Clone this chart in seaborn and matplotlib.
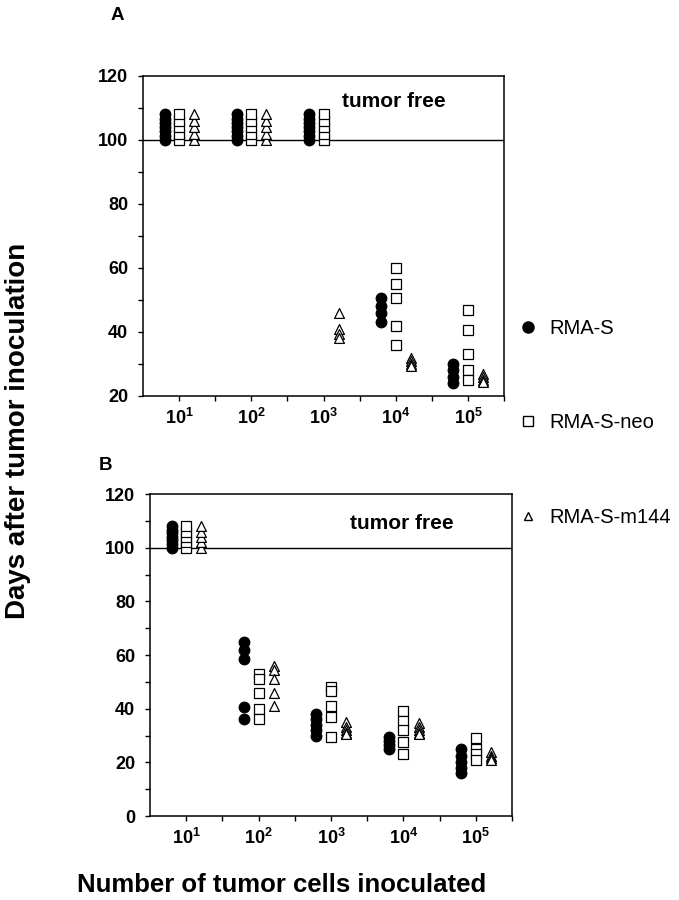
import pandas as pd
import seaborn as sns
import matplotlib.pyplot as plt
from matplotlib.lines import Line2D

# doses on the x axis
doses = [r'$\mathbf{10^{1}}$', r'$\mathbf{10^{2}}$', r'$\mathbf{10^{3}}$',
         r'$\mathbf{10^{4}}$', r'$\mathbf{10^{5}}$']
lines = ['RMA-S', 'RMA-S-neo', 'RMA-S-m144']

# panel A: days after inoculation, one list per dose
a_rmas = [[100, 101.3, 102.7, 104, 105.3, 106.7, 108],
          [100, 101.3, 102.7, 104, 105.3, 106.7, 108],
          [100, 101.3, 102.7, 104, 105.3, 106.7, 108],
          [50.5, 48, 46, 43],
          [30, 28, 26, 24]]
a_neo = [[100, 102, 104, 106, 108],
         [100, 102, 104, 106, 108],
         [100, 102, 104, 106, 108],
         [60, 55, 50.5, 42, 36],
         [47, 40.5, 33, 28, 25]]
a_m144 = [[100, 102, 104, 106, 108],
          [100, 102, 104, 106, 108],
          [46, 41, 39.5, 38],
          [32, 31, 30, 29.5],
          [27, 26, 25, 24.5]]

# panel B
b_rmas = [[100, 101.3, 102.7, 104, 105.3, 106.7, 108],
          [65, 62, 58.5, 40.5, 36],
          [38, 36, 34, 32, 30],
          [29.5, 28, 26.5, 25],
          [25, 22.5, 20, 18, 16]]
b_neo = [[100, 102, 104, 106, 108],
         [53, 51, 46, 40, 36],
         [48, 46.5, 41, 37, 29.5],
         [39, 35.5, 32, 27.5, 23],
         [29, 25, 23, 21]]
b_m144 = [[100, 102, 104, 106, 108],
          [56, 54.5, 51, 46, 41],
          [35, 33, 32, 31, 30.5],
          [34.5, 33, 32, 31, 30.5],
          [24, 22.5, 21.5, 21]]


def to_frame(series):
    rows = []
    for line, per_dose in zip(lines, series):
        for i, vals in enumerate(per_dose):
            for v in vals:
                rows.append({'dose': i + 1, 'line': line, 'days': v})
    return pd.DataFrame(rows)


df_a = to_frame([a_rmas, a_neo, a_m144])
df_b = to_frame([b_rmas, b_neo, b_m144])

sns.set_theme(style='white')
plt.rcParams['font.family'] = ['Liberation Sans', 'DejaVu Sans']
plt.rcParams['text.color'] = 'black'
plt.rcParams['xtick.color'] = 'black'
plt.rcParams['ytick.color'] = 'black'
plt.rcParams['mathtext.fontset'] = 'custom'
plt.rcParams['mathtext.rm'] = 'Liberation Sans'
plt.rcParams['mathtext.bf'] = 'Liberation Sans:bold'

fig = plt.figure(figsize=(6.79, 9), dpi=100)
ax_a = fig.add_axes([0.2106, 0.56, 0.5317, 0.3556])
ax_b = fig.add_axes([0.2209, 0.0933, 0.533, 0.3578])

offsets = {'RMA-S': -0.2, 'RMA-S-neo': 0.0, 'RMA-S-m144': 0.21}
marker_of = {'RMA-S': 'o', 'RMA-S-neo': 's', 'RMA-S-m144': '^'}
face_of = {'RMA-S': 'black', 'RMA-S-neo': 'white', 'RMA-S-m144': 'white'}
size_of = {'RMA-S': 58, 'RMA-S-neo': 62, 'RMA-S-m144': 50}


def draw_panel(ax, df, ymin, yticks, text_y):
    for line in lines:
        sub = df[df['line'] == line].copy()
        sub['x'] = sub['dose'] + offsets[line]
        sns.scatterplot(data=sub, x='x', y='days', ax=ax, marker=marker_of[line],
                        color=face_of[line], edgecolor='black', linewidth=0.9,
                        s=size_of[line], zorder=3, legend=False)
    ax.axhline(100, color='black', lw=1.0, zorder=2)
    ax.text(3.98, text_y, 'tumor free', fontsize=15, fontweight='bold', ha='center', va='center')
    ax.set_xlim(0.5, 5.5)
    ax.set_ylim(ymin, 120)
    ax.set_xticks(range(1, 6))
    ax.set_xticklabels(doses, fontsize=13)
    ax.set_xticks([1.5, 2.5, 3.5, 4.5, 5.5], minor=True)
    ax.set_yticks(yticks)
    ax.set_yticklabels([str(t) for t in yticks], fontsize=13, fontweight='bold')
    ax.set_yticks([t + 10 for t in yticks[:-1]], minor=True)
    ax.tick_params(axis='both', which='both', direction='out', length=3.6, width=1,
                   color='black', bottom=True, left=True)
    ax.tick_params(axis='x', which='major', pad=5)
    ax.tick_params(axis='y', which='major', pad=7)
    ax.set_xlabel('')
    ax.set_ylabel('')
    for sp in ax.spines.values():
        sp.set_color('black')
        sp.set_linewidth(1.1)


draw_panel(ax_a, df_a, 20, [20, 40, 60, 80, 100, 120], 112)
draw_panel(ax_b, df_b, 0, [0, 20, 40, 60, 80, 100, 120], 109)

fig.text(117 / 679, 1 - 16 / 900, 'A', fontsize=13.5, fontweight='bold', ha='center', va='center')
fig.text(105 / 679, 1 - 465 / 900, 'B', fontsize=13.5, fontweight='bold', ha='center', va='center')

fig.text(18 / 679, 1 - 431 / 900, 'Days after tumor inoculation', rotation=90, fontsize=20,
         fontweight='bold', ha='center', va='center')
fig.text(282 / 679, 1 - 885 / 900, 'Number of tumor cells inoculated', fontsize=18.5,
         fontweight='bold', ha='center', va='center')

handles = [Line2D([], [], ls='none', marker='o', ms=8, mfc='black', mec='black'),
           Line2D([], [], ls='none', marker='s', ms=7, mfc='white', mec='black', mew=1),
           Line2D([], [], ls='none', marker='^', ms=6, mfc='white', mec='black', mew=1)]
fig.legend(handles, lines, loc='center left', bbox_to_anchor=(508 / 679, 1 - 423 / 900),
           frameon=False, fontsize=14.5, labelspacing=3.77, handlelength=1.0,
           handletextpad=0.55, borderpad=0)

fig.savefig('out.png', dpi=100)
